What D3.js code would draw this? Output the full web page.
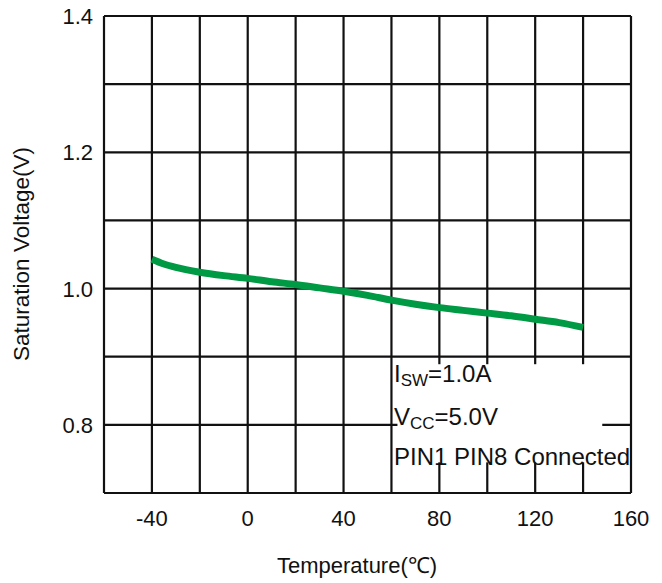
<!DOCTYPE html>
<html>
<head>
<meta charset="utf-8">
<script src="https://cdn.jsdelivr.net/npm/d3@7"></script>
<style>
  body { margin: 0; background: #fff; }
  text { font-family: "Liberation Sans", Arial, sans-serif; fill: #111; }
</style>
</head>
<body>
<div id="chart"></div>
<script>
// curve values
const temps = [-40, -35, -30, -20, -10, 0, 10, 20, 30, 40, 50, 60, 70, 80, 90, 100, 110, 120, 130, 140];
const volts = [1.043, 1.036, 1.031, 1.024, 1.019, 1.015, 1.010, 1.006, 1.001, 0.996, 0.990, 0.983, 0.977, 0.972, 0.968, 0.964, 0.960, 0.955, 0.950, 0.943];
const xTicks = [-40, 0, 40, 80, 120, 160];
const yTicks = [0.8, 1.0, 1.2, 1.4];
const xGrid = d3.range(-60, 161, 20);
const yGrid = [0.7, 0.8, 0.9, 1.0, 1.1, 1.2, 1.3, 1.4];

const W = 662, H = 583;
const margin = {top: 16, right: 31, bottom: 90, left: 104};

const svg = d3.select("#chart").append("svg")
    .attr("width", W)
    .attr("height", H);

const x = d3.scaleLinear().domain([-60, 160]).range([margin.left, W - margin.right]);
const y = d3.scaleLinear().domain([0.7, 1.4]).range([H - margin.bottom, margin.top]);

// grid
svg.append("g").selectAll("line")
    .data(xGrid)
    .join("line")
    .attr("x1", d => x(d)).attr("x2", d => x(d))
    .attr("y1", y(0.7)).attr("y2", y(1.4))
    .attr("stroke", "#111").attr("stroke-width", 2.2);
svg.append("g").selectAll("line")
    .data(yGrid)
    .join("line")
    .attr("x1", x(-60)).attr("x2", x(160))
    .attr("y1", d => y(d)).attr("y2", d => y(d))
    .attr("stroke", "#111").attr("stroke-width", 2.2);

// white patch behind the notes
svg.append("rect")
    .attr("x", x(62.5)).attr("y", y(0.889))
    .attr("width", x(148) - x(62.5))
    .attr("height", y(0.745) - y(0.889))
    .attr("fill", "#fff");

// tick labels
svg.append("g").selectAll("text")
    .data(xTicks)
    .join("text")
    .attr("x", d => x(d))
    .attr("y", y(0.7) + 33)
    .attr("text-anchor", "middle")
    .attr("font-size", "22px")
    .text(d => d);
svg.append("g").selectAll("text")
    .data(yTicks)
    .join("text")
    .attr("x", margin.left - 11)
    .attr("y", d => y(d) + 8)
    .attr("text-anchor", "end")
    .attr("font-size", "22px")
    .text(d => d.toFixed(1));

// axis titles
svg.append("text")
    .attr("x", 357).attr("y", 573)
    .attr("text-anchor", "middle")
    .attr("font-size", "22px")
    .text("Temperature(℃)");
svg.append("text")
    .attr("transform", "translate(29,254) rotate(-90)")
    .attr("text-anchor", "middle")
    .attr("font-size", "22.5px")
    .text("Saturation Voltage(V)");

// curve
const line = d3.line()
    .x((d, i) => x(temps[i]))
    .y(d => y(d))
    .curve(d3.curveMonotoneX);
svg.append("path")
    .datum(volts)
    .attr("d", line)
    .attr("fill", "none")
    .attr("stroke", "#009944")
    .attr("stroke-width", 7);

// notes
const notes = svg.append("g").attr("font-size", "24px");
let t1 = notes.append("text").attr("x", 394).attr("y", 382);
t1.append("tspan").text("I");
t1.append("tspan").attr("font-size", "17px").attr("dy", 4).text("SW");
t1.append("tspan").attr("dy", -4).text("=1.0A");
let t2 = notes.append("text").attr("x", 394).attr("y", 425);
t2.append("tspan").text("V");
t2.append("tspan").attr("font-size", "17px").attr("dy", 4).text("CC");
t2.append("tspan").attr("dy", -4).text("=5.0V");
notes.append("text").attr("x", 394).attr("y", 465).text("PIN1 PIN8 Connected");
</script>
</body>
</html>
